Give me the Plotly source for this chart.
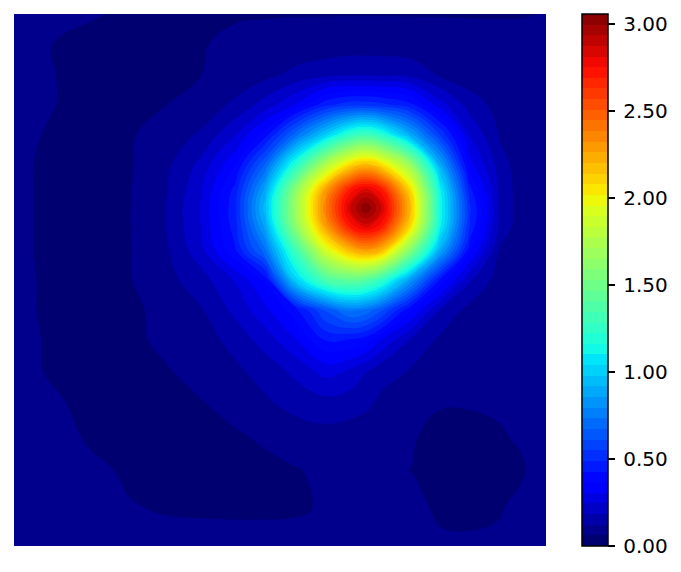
import plotly.graph_objects as go

x_pos = [14,50,90,130,165,200,235,265,295,325,350,366,382,410,440,470,500,525,546]
y_pos = [14,45,75,105,135,165,190,208,226,250,280,310,340,370,400,435,470,510,546]

z_rows = [
 [.075,.07,.065,.056,.052,.055,.058,.059,.059,.059,.059,.059,.059,.059,.059,.059,.059,.06,.062],
 [.075,.062,.05,.04,.045,.059,.068,.072,.08,.085,.09,.09,.09,.085,.08,.075,.072,.07,.07],
 [.08,.065,.04,.035,.045,.06,.085,.105,.14,.165,.18,.18,.175,.165,.115,.085,.078,.075,.072],
 [.08,.065,.04,.04,.06,.085,.135,.21,.31,.47,.53,.53,.51,.45,.27,.155,.098,.08,.075],
 [.08,.055,.035,.055,.09,.13,.24,.4,.7,1.0,1.25,1.32,1.22,.9,.55,.24,.115,.08,.075],
 [.08,.045,.03,.057,.105,.2,.36,.68,1.2,1.75,2.1,2.2,2.08,1.68,.9,.33,.15,.08,.075],
 [.08,.045,.03,.058,.115,.23,.45,.88,1.6,2.27,2.72,2.85,2.72,2.1,1.12,.45,.165,.08,.075],
 [.08,.045,.03,.06,.12,.245,.47,.95,1.65,2.37,2.87,3.06,2.87,2.2,1.15,.5,.165,.08,.075],
 [.08,.045,.03,.06,.12,.24,.46,.88,1.6,2.27,2.72,2.85,2.72,2.1,1.12,.48,.16,.08,.075],
 [.08,.045,.03,.058,.11,.22,.42,.72,1.3,1.9,2.2,2.3,2.2,1.6,.9,.38,.115,.08,.075],
 [.08,.05,.03,.058,.1,.155,.25,.38,1.0,1.35,1.45,1.4,1.25,.85,.42,.19,.09,.08,.075],
 [.08,.05,.03,.055,.07,.115,.2,.29,.4,.62,.75,.72,.62,.38,.18,.1,.08,.075,.075],
 [.08,.055,.03,.052,.07,.09,.145,.21,.3,.43,.42,.39,.3,.18,.11,.08,.075,.075,.075],
 [.085,.055,.03,.04,.058,.075,.11,.15,.2,.27,.24,.19,.145,.12,.085,.075,.075,.078,.08],
 [.09,.07,.045,.035,.035,.06,.085,.115,.15,.17,.155,.14,.112,.085,.065,.065,.07,.075,.08],
 [.09,.08,.055,.04,.03,.04,.055,.072,.09,.1,.095,.088,.078,.065,.052,.052,.057,.07,.08],
 [.09,.085,.07,.055,.035,.03,.035,.045,.058,.072,.07,.065,.062,.061,.048,.045,.052,.06,.075],
 [.09,.085,.075,.064,.059,.058,.058,.058,.059,.063,.07,.072,.072,.068,.058,.056,.06,.07,.075],
 [.09,.09,.085,.08,.075,.072,.07,.07,.07,.072,.075,.075,.075,.07,.065,.065,.065,.07,.07],
]

cbar_ticks = [0, 0.5, 1.0, 1.5, 2.0, 2.5, 3.0]
cbar_labels = ["\u20090.00", "\u20090.50", "\u20091.00", "\u20091.50", "\u20092.00", "\u20092.50", "\u20093.00"]
z_max = 3.06

jet = [[0,"#000062"],[0.11,"#0000ff"],[0.125,"#0000ff"],[0.35,"#00e5f7"],[0.375,"#16ffe1"],
       [0.64,"#e1ff16"],[0.66,"#fbf000"],[0.89,"#ff1300"],[0.91,"#f10800"],[1,"#800000"]]

fig = go.Figure(go.Contour(
    x=x_pos, y=y_pos, z=z_rows,
    zmin=0, zmax=z_max, colorscale=jet,
    contours=dict(start=0, end=z_max, size=z_max/50, coloring="fill", showlines=False),
    line=dict(width=0, smoothing=1.3),
    colorbar=dict(
        thicknessmode="pixels", thickness=26, lenmode="fraction", len=1,
        x=568/532, xanchor="left", xpad=0, y=0.5, yanchor="middle", ypad=0,
        outlinecolor="black", outlinewidth=1.5, borderwidth=0,
        ticks="outside", ticklen=7, tickwidth=1.5, tickcolor="black",
        tickvals=cbar_ticks, ticktext=cbar_labels,
        tickfont=dict(family="DejaVu Sans", size=20, color="black"),
    ),
))
fig.update_layout(
    width=681, height=572, autosize=False,
    margin=dict(l=14, t=14, r=135, b=26, pad=0),
    paper_bgcolor="white", plot_bgcolor="white",
    xaxis=dict(visible=False, range=[14,546]),
    yaxis=dict(visible=False, range=[546,14]),
)
fig.write_html("out.html", config=dict(displayModeBar=False), post_script="document.body.style.margin='0';")
